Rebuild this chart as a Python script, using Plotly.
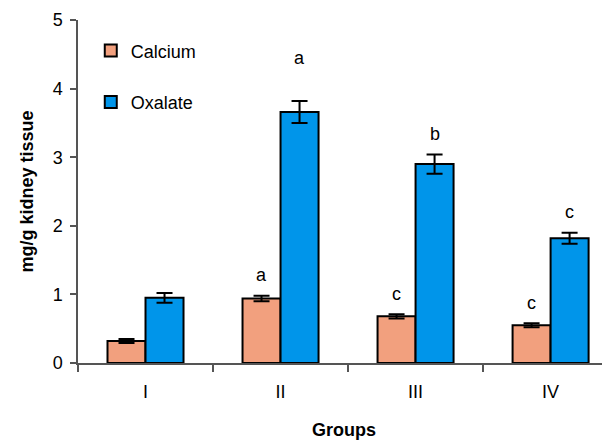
import plotly.graph_objects as go

groups = ["I", "II", "III", "IV"]
calcium = [0.32, 0.94, 0.68, 0.55]
calcium_err = [0.03, 0.04, 0.03, 0.03]
oxalate = [0.95, 3.66, 2.90, 1.82]
oxalate_err = [0.07, 0.16, 0.14, 0.08]
calcium_letters = ["", "a", "c", "c"]
oxalate_letters = ["", "a", "b", "c"]

FONT = "Liberation Sans, Arial, sans-serif"
CA_COLOR = "#F2A07E"
OX_COLOR = "#0095EA"
AXIS_COLOR = "#555555"

fig = go.Figure()
fig.add_trace(go.Bar(
    name="Calcium", x=groups, y=calcium,
    marker=dict(color=CA_COLOR, line=dict(color="black", width=2)),
    error_y=dict(type="data", array=calcium_err, color="black", thickness=2, width=8),
    legendgroup="ca",
))
fig.add_trace(go.Bar(
    name="Oxalate", x=groups, y=oxalate,
    marker=dict(color=OX_COLOR, line=dict(color="black", width=2)),
    error_y=dict(type="data", array=oxalate_err, color="black", thickness=2, width=8),
    legendgroup="ox",
))

# significance letters
pad = [0.3, 0.3, 0.3, 0.3]
ox_pad = [0.3, 0.63, 0.3, 0.3]
for i, g in enumerate(groups):
    if calcium_letters[i]:
        fig.add_annotation(x=g, y=calcium[i] + calcium_err[i] + pad[i], xref="x", yref="y",
                           text=calcium_letters[i], showarrow=False, xshift=-19,
                           font=dict(family=FONT, size=18, color="black"))
    if oxalate_letters[i]:
        fig.add_annotation(x=g, y=oxalate[i] + oxalate_err[i] + ox_pad[i], xref="x", yref="y",
                           text=oxalate_letters[i], showarrow=False, xshift=19,
                           font=dict(family=FONT, size=18, color="black"))

# the page body has an 8px default margin, so the figure is 8px smaller
fig.update_layout(
    width=602, height=432,
    margin=dict(l=70, r=0, t=12, b=77),
    paper_bgcolor="white", plot_bgcolor="white",
    barmode="group", bargap=0.437, bargroupgap=0,
    font=dict(family=FONT, size=18, color="black"),
    showlegend=True,
    legend=dict(x=0.024, y=0.964, xanchor="left", yanchor="top",
                traceorder="grouped", tracegroupgap=25,
                bgcolor="rgba(0,0,0,0)", font=dict(size=18, family=FONT)),
    xaxis=dict(
        type="category", range=[-0.5, 3.44], automargin=False,
        showline=True, linecolor=AXIS_COLOR, linewidth=1.5,
        ticks="outside", tickson="boundaries", ticklen=7, tickcolor=AXIS_COLOR, tickwidth=1.5,
        ticklabelstandoff=12,
        showgrid=False, zeroline=False,
        title=dict(text="<b>Groups</b>", font=dict(size=18, family=FONT), standoff=22),
    ),
    yaxis=dict(
        range=[0, 5], dtick=1, automargin=False,
        showline=True, linecolor=AXIS_COLOR, linewidth=1.5,
        ticks="outside", ticklen=6, tickcolor=AXIS_COLOR, tickwidth=1.5,
        ticklabelstandoff=4,
        showgrid=False, zeroline=False,
        title=dict(text="<b>mg/g kidney tissue</b>", font=dict(size=18, family=FONT), standoff=14),
    ),
)

fig.write_html("out.html")
